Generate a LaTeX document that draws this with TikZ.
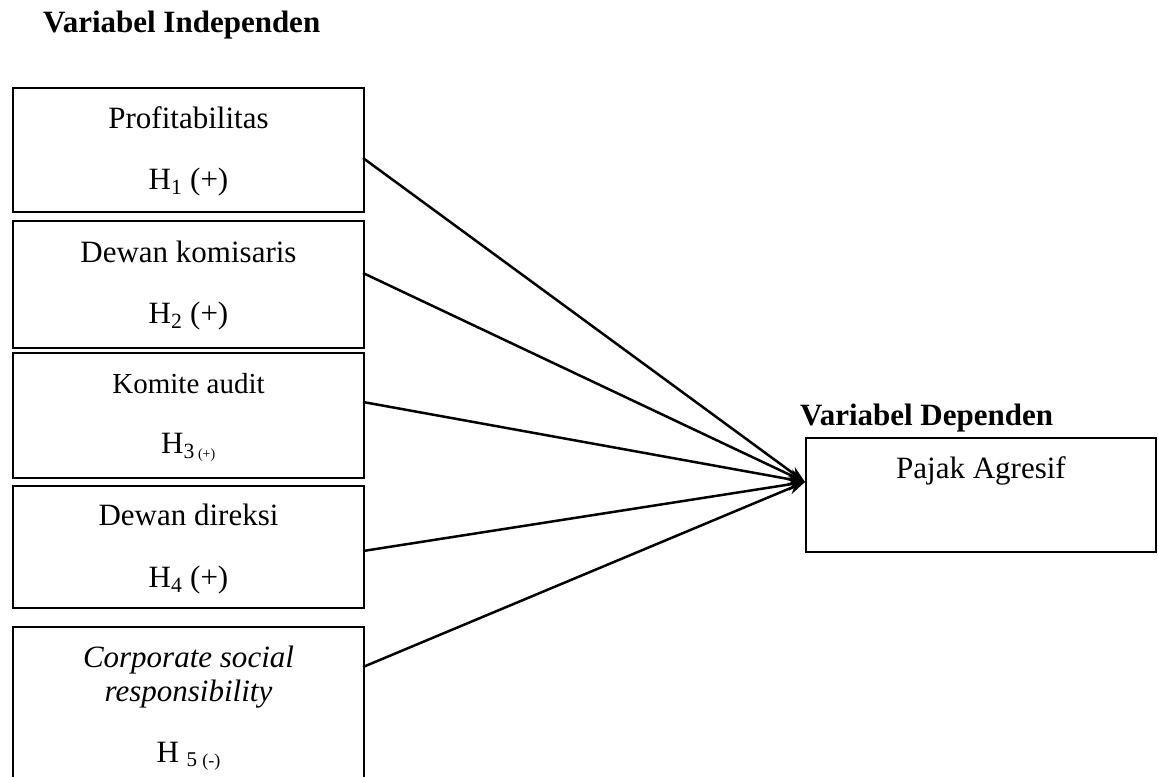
\documentclass[tikz,border=0pt]{standalone}
\usepackage{fontspec}
\setmainfont{Liberation Serif}
\usetikzlibrary{arrows.meta}
\newcommand{\bigtxt}{\fontsize{31}{37}\selectfont}
\begin{document}
\begin{tikzpicture}[x=1pt,y=-1pt,
  varbox/.style={draw=black,line width=2pt,minimum width=351pt,inner sep=0pt},
  lbl/.style={anchor=base,inner sep=0pt,font=\bigtxt},
  ttl/.style={anchor=base west,inner sep=0pt,font=\bigtxt\bfseries},
  conn/.style={line width=2.5pt,-{Stealth[length=17pt,width=12pt]}}]
\useasboundingbox (0,0) rectangle (1158,776);
\clip (0,0) rectangle (1158,776);
% titles
\node[ttl] (tind) at (43,33) {Variabel Independen};
\node[ttl] (tdep) at (800,425) {Variabel Dependen};
% boxes
\node[varbox,minimum height=124pt] (b1) at (188.5,150) {};
\node[varbox,minimum height=127pt] (b2) at (188.5,284.5) {};
\node[varbox,minimum height=125pt] (b3) at (188.5,415.5) {};
\node[varbox,minimum height=122pt] (b4) at (188.5,547) {};
\node[varbox,minimum height=170pt] (b5) at (188.5,712) {};
\node[draw=black,line width=2pt,minimum width=350pt,minimum height=114pt,inner sep=0pt] (pa) at (981,495) {};
% texts
\node[lbl] (t1a) at (188.5,128) {Profitabilitas};
\node[lbl] (t1b) at (188.5,189) {H\textsubscript{1} (+)};
\node[lbl] (t2a) at (188.5,262) {Dewan komisaris};
\node[lbl] (t2b) at (188.5,323) {H\textsubscript{2} (+)};
\node[lbl,font=\fontsize{29}{35}\selectfont] (t3a) at (188.5,393) {Komite audit};
\node[lbl] (t3b) at (188.5,453) {H\textsubscript{3\,{\fontsize{14}{16}\selectfont(+)}}};
\node[lbl] (t4a) at (188.5,525) {Dewan direksi};
\node[lbl] (t4b) at (188.5,587) {H\textsubscript{4} (+)};
\node[lbl] (t5a) at (188.5,667) {\itshape Corporate social};
\node[lbl] (t5b) at (188.5,701) {\itshape responsibility};
\node[lbl] (t5c) at (188.5,762) {H \raisebox{-4pt}{\fontsize{21}{24}\selectfont 5 {\fontsize{18}{20}\selectfont(-)}}};
\node[lbl] (tpa) at (981,478) {Pajak Agresif};
% connector end points
\coordinate (s1) at (363,158);
\coordinate (s2) at (363,273);
\coordinate (s3) at (363,402);
\coordinate (s4) at (363,551);
\coordinate (s5) at (363,667);
\coordinate (tip) at (805,482);
\draw[conn] (s1) -- (tip);
\draw[conn] (s2) -- (tip);
\draw[conn] (s3) -- (tip);
\draw[conn] (s4) -- (tip);
\draw[conn] (s5) -- (tip);
\end{tikzpicture}
\end{document}
